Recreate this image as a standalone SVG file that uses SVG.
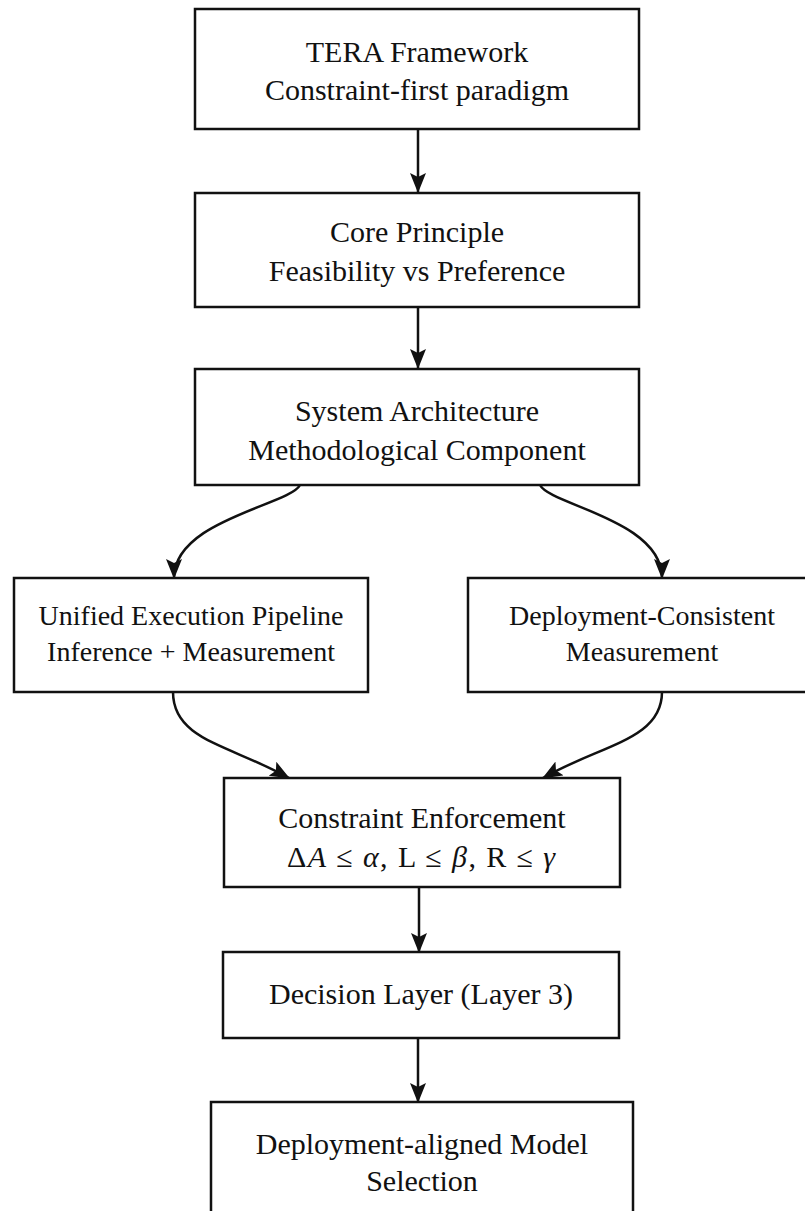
<svg xmlns="http://www.w3.org/2000/svg" width="805" height="1211" viewBox="0 0 805 1211">
<style>
.box{fill:#fff;stroke:#111;stroke-width:2.5}
.t{font-family:"Liberation Serif","DejaVu Serif",serif;font-size:30px;fill:#111;text-anchor:middle}
.s{font-size:28px}
.e{fill:none;stroke:#111;stroke-width:2.5}
.i{font-style:italic}
</style>
<defs>
<marker id="ah" viewBox="0 0 20 16" markerWidth="20" markerHeight="16" refX="19" refY="8" orient="auto" markerUnits="userSpaceOnUse">
<path d="M0,0 L20,8 L0,16 L4,8 z" fill="#111"/>
</marker>
</defs>
<rect width="805" height="1211" fill="#fff"/>
<g id="connectors">
<path class="e" d="M418,129 L418,192" marker-end="url(#ah)"/>
<path class="e" d="M418,307 L418,368" marker-end="url(#ah)"/>
<path class="e" d="M300,485 C290,505 174,520 174,578" marker-end="url(#ah)"/>
<path class="e" d="M540,485 C550,505 662,520 662,578" marker-end="url(#ah)"/>
<path class="e" d="M173,692 C173,740 230,745 289,778" marker-end="url(#ah)"/>
<path class="e" d="M662,692 C662,740 600,745 543,778" marker-end="url(#ah)"/>
<path class="e" d="M419,887 L419,952" marker-end="url(#ah)"/>
<path class="e" d="M418,1038 L418,1102" marker-end="url(#ah)"/>
</g>
<g id="n1">
<rect class="box" x="195" y="9" width="444" height="120"/>
<text class="t" x="417" y="62">TERA Framework</text>
<text class="t" x="417" y="100">Constraint-first paradigm</text>
</g>
<g id="n2">
<rect class="box" x="195" y="193" width="444" height="114"/>
<text class="t" x="417" y="242">Core Principle</text>
<text class="t" x="417" y="281">Feasibility vs Preference</text>
</g>
<g id="n3">
<rect class="box" x="195" y="369" width="444" height="116"/>
<text class="t" x="417" y="421">System Architecture</text>
<text class="t" x="417" y="460">Methodological Component</text>
</g>
<g id="n4">
<rect class="box" x="14" y="578" width="354" height="114"/>
<text class="t s" x="191" y="625">Unified Execution Pipeline</text>
<text class="t s" x="191" y="661">Inference + Measurement</text>
</g>
<g id="n5">
<rect class="box" x="468" y="578" width="350" height="114"/>
<text class="t s" x="642" y="625">Deployment-Consistent</text>
<text class="t s" x="642" y="661">Measurement</text>
</g>
<g id="n6">
<rect class="box" x="224" y="778" width="396" height="109"/>
<text class="t" x="422" y="828">Constraint Enforcement</text>
<text class="t" x="421" y="867" textLength="268" lengthAdjust="spacing">Δ<tspan class="i">A</tspan> ≤ <tspan class="i">α</tspan>, L ≤ <tspan class="i">β</tspan>, R ≤ <tspan class="i">γ</tspan></text>
</g>
<g id="n7">
<rect class="box" x="223" y="952" width="396" height="86"/>
<text class="t" x="421" y="1004">Decision Layer (Layer 3)</text>
</g>
<g id="n8">
<rect class="box" x="211" y="1102" width="422" height="140"/>
<text class="t" x="422" y="1154">Deployment-aligned Model</text>
<text class="t" x="422" y="1191">Selection</text>
</g>
</svg>
